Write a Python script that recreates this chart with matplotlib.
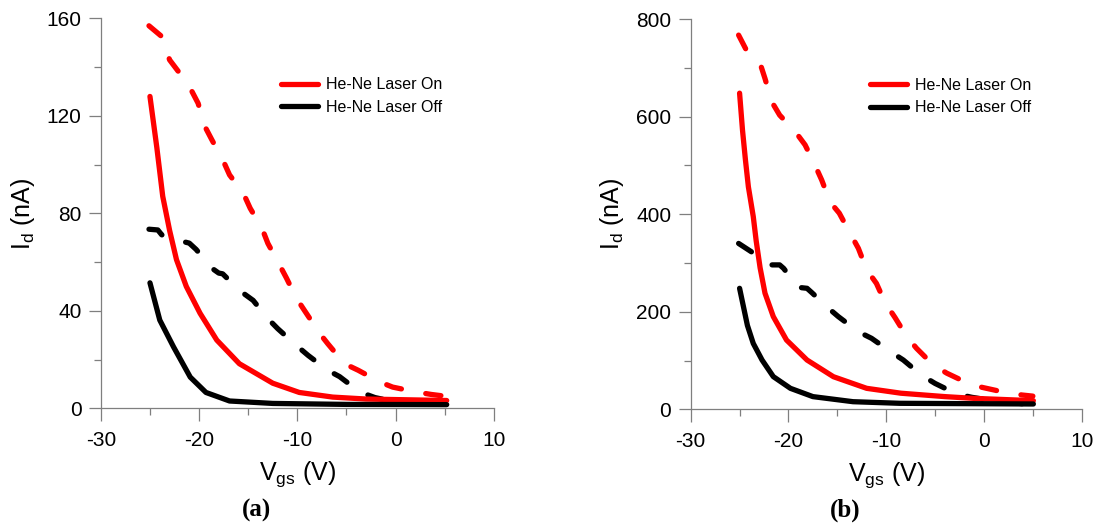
import numpy as np
import matplotlib
matplotlib.use("Agg")
import matplotlib.pyplot as plt
from matplotlib.ticker import MultipleLocator

plt.rcParams['font.family'] = ['Liberation Sans', 'DejaVu Sans']
plt.rcParams['axes.unicode_minus'] = False

# ---- panel (a) data, Id in nA ----
a_on_dash_v = [-25.1, -23.8, -23.0, -22.1, -20.9, -20.1, -19.4, -18.7, -17.5, -16.9, -15.5, -14.8,
               -13.6, -13.0, -11.9, -11.1, -10.1, -9.2, -7.7, -6.9, -5.2, -3.8, -1.6, -0.3, 2.1, 3.6, 5.0]
a_on_dash_i = [157, 152.6, 143, 138.2, 131.4, 125.2, 115.6, 110.2, 101.2, 95.8, 88.3, 82.1,
               73.9, 67.7, 59.5, 53.4, 45.2, 39.7, 30.6, 26.5, 18.3, 15.6, 10.8, 8.7, 6.7, 5.7, 5.0]
a_on_solid_v = [-25, -24.3, -23.7, -23, -22.3, -21.3, -19.9, -18.2, -15.9, -12.5, -9.8, -6.4, -3, 5.2]
a_on_solid_i = [128, 107, 87, 73, 61, 50, 39, 28, 18.3, 10.3, 6.5, 4.6, 3.8, 3.2]
a_off_solid_v = [-25, -24, -22.6, -20.9, -19.3, -16.9, -12.5, -5, 5.2]
a_off_solid_i = [51.5, 36.2, 25.2, 12.8, 6.5, 3.0, 2.0, 1.6, 1.5]
a_off_dash_v = [-25.1, -24.2, -23.8, -21.6, -21.0, -20.3, -18.7, -18.0, -17.6, -15.9, -14.5, -13.0,
                -12.0, -10.1, -8.9, -6.9, -5.7, -3.65, -2.1, 0.1, 1.8, 5.2]
a_off_dash_i = [73.5, 73.2, 71.2, 68.4, 67.8, 65.2, 57.5, 55.5, 55.2, 48.4, 44.3, 36.8,
                32.7, 25.8, 21.7, 15.6, 13.0, 6.7, 4.4, 2.5, 2.3, 1.5]

# ---- panel (b) data, Id in nA ----
b_on_dash_v = [-25.1, -24.3, -22.9, -22.4, -21.7, -20.9, -19.3, -18.3, -17.3, -16.6, -15.75, -14.8,
               -13.7, -12.85, -12.0, -11.0, -10.1, -9.1, -7.9, -6.9, -5.2, -3.8, -1.6, -0.2, 2.3, 3.9, 5.0]
b_on_dash_i = [767, 736, 709, 678, 630, 603, 569, 542, 501, 470, 425, 402,
               361, 330, 286, 258, 218, 188, 149, 125, 91, 74, 53, 45, 34, 29.3, 27]
b_on_solid_v = [-25, -24.7, -24.4, -24.1, -23.6, -23.3, -22.9, -22.4, -21.55, -20.2, -18.1, -15.4,
                -12.0, -8.5, -4.0, -1.1, 5.05]
b_on_solid_i = [648, 572, 511, 456, 395, 345, 290, 238, 190, 142, 101, 66.8,
                43, 33, 26, 22.5, 17.7]
b_off_solid_v = [-25, -24.6, -24.2, -23.6, -22.7, -21.55, -19.8, -17.5, -13.4, -8.6, 5.05]
b_off_solid_i = [248, 210, 172, 135, 101, 67, 43, 26, 15.6, 12.3, 10.9]
b_off_dash_v = [-25.1, -23.8, -21.9, -20.9, -20.5, -19.0, -18.1, -17.6, -15.9, -14.9, -12.85, -11.5,
                -9.4, -8.25, -6.4, -5.0, -2.8, -1.25, 1.1, 2.7, 5.05]
b_off_dash_i = [340, 323, 296, 296, 289, 250, 248, 239, 207, 190, 159, 145.5,
                116, 101, 70, 53, 31.4, 24.6, 17, 14.3, 8.8]

RED = '#ff0000'
BLACK = '#000000'
GREY = '#7f7f7f'
LW = 3.8
DASH = (2.9, 4.7)


def style_axes(ax, ymax, ystep):
    for side in ('top', 'right'):
        ax.spines[side].set_visible(False)
    for side in ('left', 'bottom'):
        ax.spines[side].set_color(GREY)
        ax.spines[side].set_linewidth(0.9)
    ax.set_xlim(-30, 10)
    ax.set_ylim(0, ymax)
    ax.xaxis.set_major_locator(MultipleLocator(10))
    ax.xaxis.set_minor_locator(MultipleLocator(5))
    ax.yaxis.set_major_locator(MultipleLocator(ystep))
    ax.yaxis.set_minor_locator(MultipleLocator(ystep / 2))
    ax.tick_params(which='major', length=9, width=0.9, color=GREY, labelsize=15)
    ax.tick_params(axis='x', which='major', pad=7)
    ax.tick_params(axis='y', which='major', pad=5)
    ax.tick_params(which='minor', length=5, width=0.9, color=GREY)
    ax.set_xlabel(r'V$_\mathregular{gs}$ (V)', fontsize=18, labelpad=7)
    ax.set_ylabel(r'I$_\mathregular{d}$ (nA)', fontsize=18, labelpad=7)


fig = plt.figure(figsize=(10.96, 5.28), dpi=100)
ax_a = fig.add_axes([0.092, 0.2267, 0.3586, 0.7383])
ax_b = fig.add_axes([0.6302, 0.2248, 0.3568, 0.7392])

panels = [
    (ax_a, a_on_dash_v, a_on_dash_i, a_on_solid_v, a_on_solid_i,
     a_off_dash_v, a_off_dash_i, a_off_solid_v, a_off_solid_i, 160, 40),
    (ax_b, b_on_dash_v, b_on_dash_i, b_on_solid_v, b_on_solid_i,
     b_off_dash_v, b_off_dash_i, b_off_solid_v, b_off_solid_i, 800, 200),
]

for (ax, odv, odi, osv, osi, fdv, fdi, fsv, fsi, ymax, ystep) in panels:
    ax.plot(odv, odi, color=RED, lw=LW, dashes=DASH, dash_capstyle='round',
            dash_joinstyle='round', clip_on=False)
    ax.plot(fdv, fdi, color=BLACK, lw=LW, dashes=DASH, dash_capstyle='round',
            dash_joinstyle='round', clip_on=False)
    ax.plot(osv, osi, color=RED, lw=LW, label='He-Ne Laser On', clip_on=False,
            solid_capstyle='round', solid_joinstyle='round')
    ax.plot(fsv, fsi, color=BLACK, lw=LW, label='He-Ne Laser Off', clip_on=False,
            solid_capstyle='round', solid_joinstyle='round')
    style_axes(ax, ymax, ystep)
    ax.legend(loc='upper left', bbox_to_anchor=(0.442, 0.865), frameon=False, fontsize=11.5,
              handlelength=2.35, handletextpad=0.45, labelspacing=0.45, borderaxespad=0.0)

fig.text(0.2342, 0.033, '(a)', ha='center', va='center', fontsize=18,
         fontweight='bold', family='Liberation Serif')
fig.text(0.771, 0.033, '(b)', ha='center', va='center', fontsize=18,
         fontweight='bold', family='Liberation Serif')

fig.savefig('out.png', dpi=100)
